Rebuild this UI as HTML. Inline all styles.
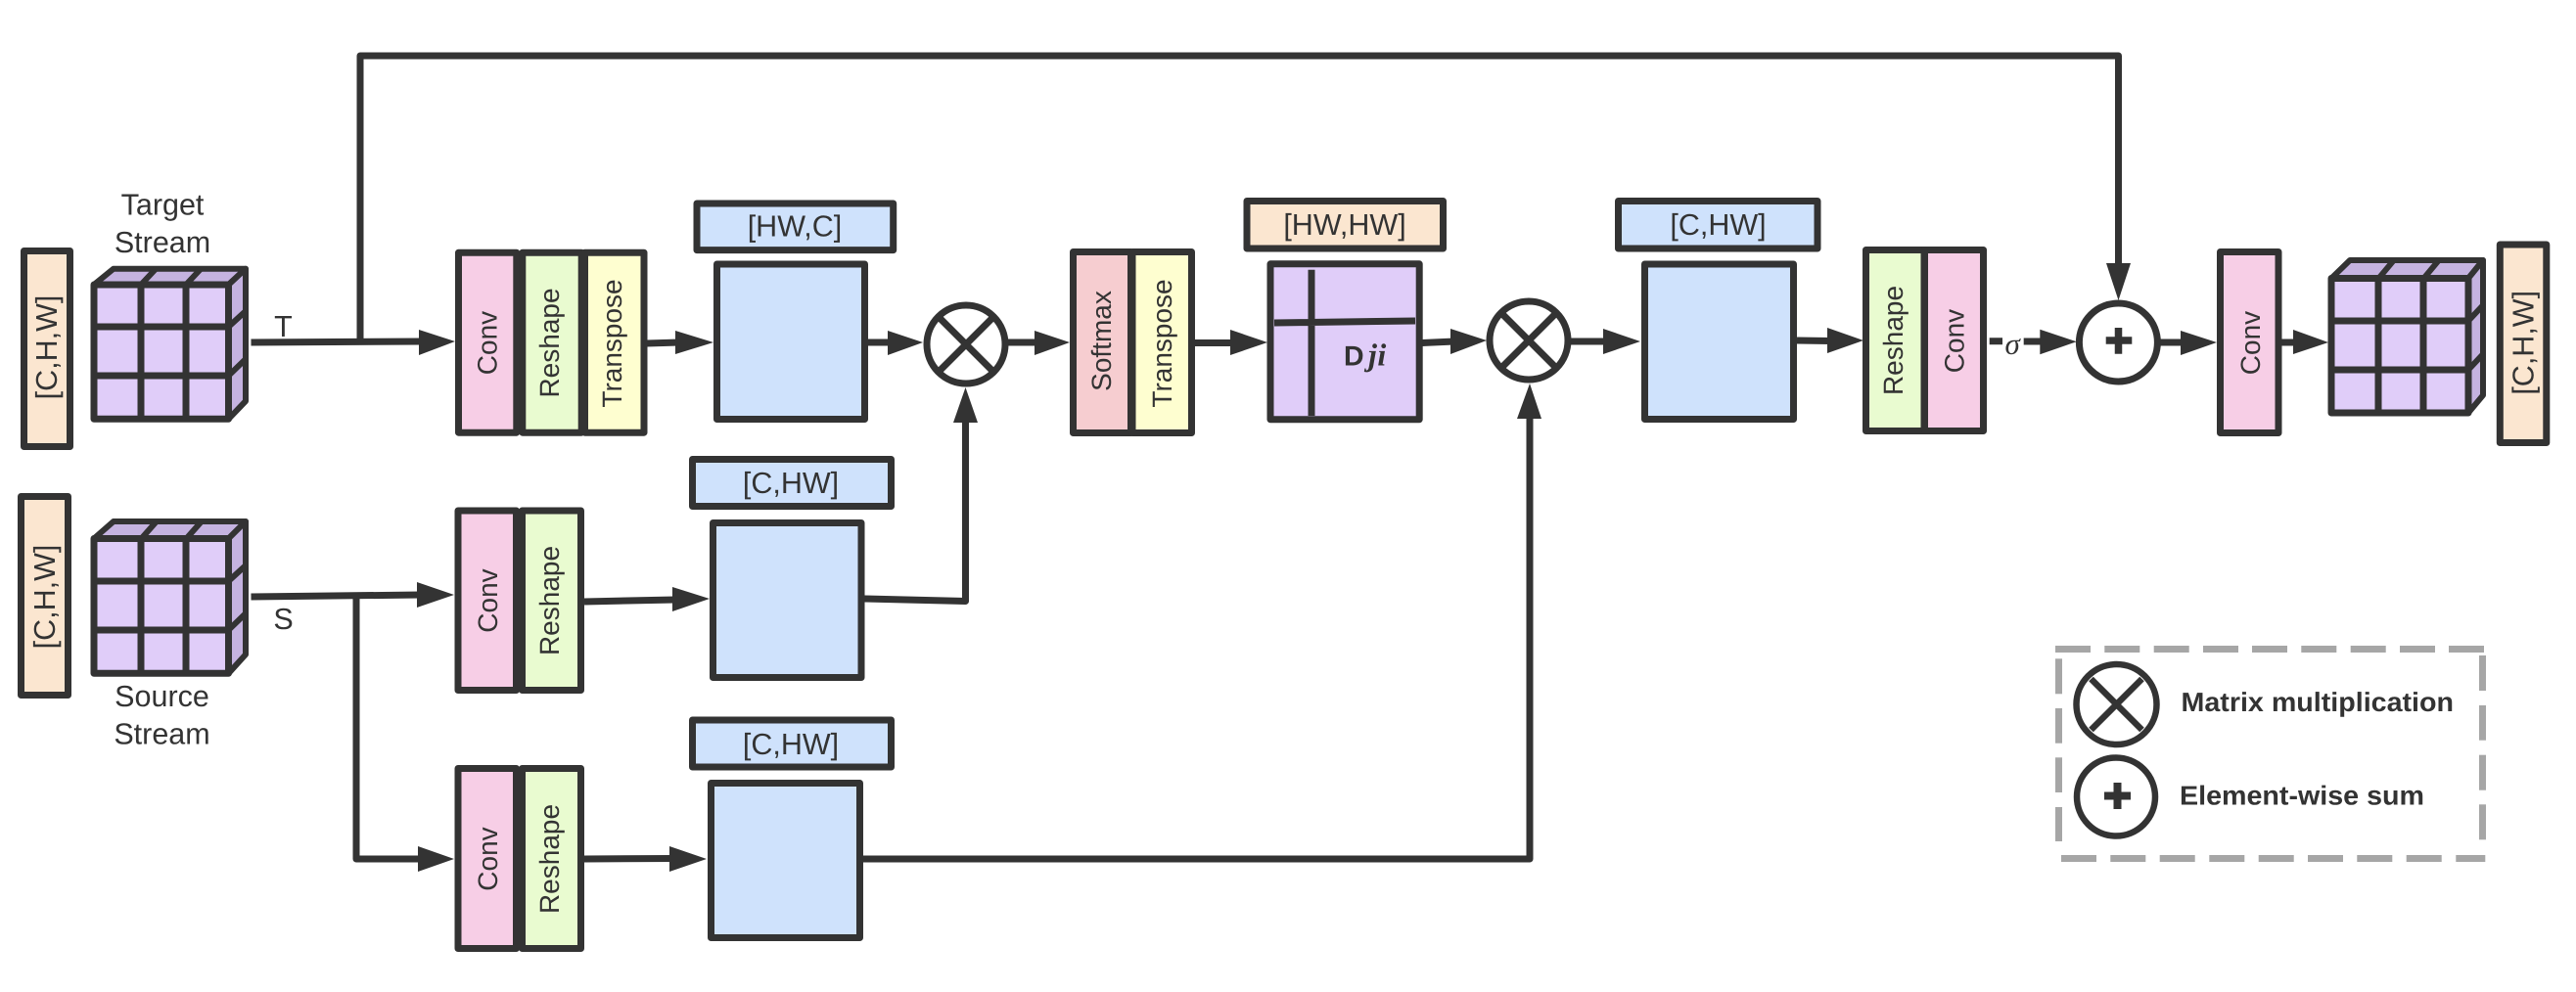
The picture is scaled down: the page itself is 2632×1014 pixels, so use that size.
<!DOCTYPE html>
<html><head><meta charset="utf-8"><style>
html,body{margin:0;padding:0;background:#fff}
svg{display:block}
text{font-family:"Liberation Sans",sans-serif;fill:#333;font-size:28px;text-rendering:geometricPrecision}
.l{font-size:30.500px;text-anchor:middle}
.r{text-anchor:middle}
.b{stroke:#333;stroke-width:7;stroke-linejoin:round}
.ln{stroke:#333;stroke-width:7;fill:none;stroke-linejoin:round}
.s{stroke:#333;stroke-width:6;fill:none}
.h{fill:#333}
.g{fill:#a6a6a6}
</style></head><body>
<svg width="2632" height="1014" viewBox="0 0 2632 1014" xmlns="http://www.w3.org/2000/svg">
<rect width="2632" height="1014" fill="#fff"/>

<!-- connectors -->
<path class="ln" d="M368 347V57H2164.500V272"/>
<path class="ln" d="M256.500 350L432 349"/><polygon class="h" points="428,337 465,349 428,363"/>
<path class="ln" d="M256.500 610L430 608"/><polygon class="h" points="426,595 464,608 426,621"/>
<path class="ln" d="M364 608V878H430"/><polygon class="h" points="427,865 464,878 427,891"/>
<path class="ln" d="M661 351L694 350"/><polygon class="h" points="690,338 729,350 690,362"/>
<path class="ln" d="M887 350H910"/><polygon class="h" points="907,338 943,350 907,363"/>
<path class="ln" d="M1030 350H1060"/><polygon class="h" points="1057,338 1093,350 1057,363"/>
<path class="ln" d="M1221 350.500H1260"/><polygon class="h" points="1257,337 1295,350 1257,363"/>
<path class="ln" d="M1453 350.500L1486 349"/><polygon class="h" points="1482,336 1519,348 1482,362"/>
<path class="ln" d="M1605 349H1642"/><polygon class="h" points="1638,336 1676,349 1638,362"/>
<path class="ln" d="M1836 348L1870 348.500"/><polygon class="h" points="1867,335 1904,348 1867,361"/>
<path class="ln" d="M2032.700 348.700H2046M2067.700 349H2090"/><polygon class="h" points="2084.300,336.700 2121.700,349.300 2084.300,362.300"/>
<path class="ln" d="M2207 350H2232"/><polygon class="h" points="2228,338 2265,350 2228,363"/>
<path class="ln" d="M2331 350H2346"/><polygon class="h" points="2343,337 2379,350 2343,362"/>
<polygon class="h" points="2152,269 2164.500,307 2177,269"/>
<path class="ln" d="M597 615L690 613"/><polygon class="h" points="687,600 725,612 687,625"/>
<path class="ln" d="M597 878L688 877.500"/><polygon class="h" points="684,865 722,878 684,891"/>
<path class="ln" d="M883 612L986.500 614.500V430"/><polygon class="h" points="974,432 986.500,396 999,432"/>
<path class="ln" d="M882 878H1563V426"/><polygon class="h" points="1550,428 1563,392 1575,428"/>

<!-- left labels -->
<rect class="b" x="24.500" y="256.500" width="47" height="200" fill="#fbe6d0"/>
<text class="l" transform="translate(58 355) rotate(-90)">[C,H,W]</text>
<rect class="b" x="21.500" y="507.500" width="48" height="203" fill="#fbe6d0"/>
<text class="l" transform="translate(56 610) rotate(-90)">[C,H,W]</text>

<!-- target cube -->
<g class="b" fill="#e0cdf9">
<polygon points="96,291 116,274.700 251,274.700 233.500,291" fill="#c5b3e0" stroke-width="6"/>
<polygon points="233.500,291 251,274.700 251,410 233.500,428.300" fill="#c5b3e0" stroke-width="6"/>
<rect x="96" y="291" width="137.500" height="137.300"/>
</g>
<path class="ln" d="M144 291V428M190 291V428M96 334H233M96 384H233"/>
<path class="s" d="M144 291L159 275M190 291L205 275M233.500 334L251 318M233.500 384L251 367"/>
<!-- source cube -->
<g class="b" fill="#e0cdf9">
<polygon points="96,550.500 116,533 251,533 233.500,550.500" fill="#c5b3e0" stroke-width="6"/>
<polygon points="233.500,550.500 251,533 251,669 233.500,688.300" fill="#c5b3e0" stroke-width="6"/>
<rect x="96" y="550.500" width="137.500" height="137.800"/>
</g>
<path class="ln" d="M144 551V688M190 551V688M96 594H233M96 644H233"/>
<path class="s" d="M144 551L159 534M190 551L205 534M233.500 594L251 578M233.500 644L251 627"/>

<text class="l" x="166" y="219.500">Target</text>
<text class="l" x="166" y="258">Stream</text>
<text class="l" x="165.500" y="722">Source</text>
<text class="l" x="165.500" y="760.500">Stream</text>
<text class="l" x="289.500" y="344">T</text>
<text class="l" x="289.500" y="643">S</text>

<!-- stack 1 -->
<rect class="b" x="468.500" y="258.200" width="59.300" height="184" fill="#f7cee6"/>
<rect class="b" x="533.800" y="258.200" width="60.400" height="184" fill="#e9fbd0"/>
<rect class="b" x="597.500" y="258.200" width="60.500" height="184" fill="#fefed0"/>
<text class="r" transform="translate(507.500 350.500) rotate(-90)">Conv</text>
<text class="r" transform="translate(571 350.500) rotate(-90)">Reshape</text>
<text class="r" transform="translate(635 351) rotate(-90)">Transpose</text>
<!-- stack 2 -->
<rect class="b" x="468" y="522" width="59.500" height="183.500" fill="#f7cee6"/>
<rect class="b" x="533.500" y="522" width="60" height="183.500" fill="#e9fbd0"/>
<text class="r" transform="translate(508 614) rotate(-90)">Conv</text>
<text class="r" transform="translate(571 614) rotate(-90)">Reshape</text>
<!-- stack 3 -->
<rect class="b" x="468" y="785.500" width="59.500" height="184" fill="#f7cee6"/>
<rect class="b" x="533.500" y="785.500" width="60" height="184" fill="#e9fbd0"/>
<text class="r" transform="translate(508 878) rotate(-90)">Conv</text>
<text class="r" transform="translate(571 878) rotate(-90)">Reshape</text>

<!-- boxes column 1 -->
<rect class="b" x="712" y="208" width="200.700" height="47.600" fill="#cfe2fc"/>
<text class="l" x="812" y="241.500">[HW,C]</text>
<rect class="b" x="732.500" y="270" width="151" height="158.500" fill="#cfe2fc"/>
<rect class="b" x="707.500" y="469.500" width="203" height="48" fill="#cfe2fc"/>
<text class="l" x="808" y="504">[C,HW]</text>
<rect class="b" x="728.500" y="534.500" width="151.500" height="158" fill="#cfe2fc"/>
<rect class="b" x="707.500" y="736" width="203" height="48" fill="#cfe2fc"/>
<text class="l" x="808" y="771">[C,HW]</text>
<rect class="b" x="726.500" y="800.500" width="152" height="158" fill="#cfe2fc"/>

<!-- circle 1 -->
<circle class="b" cx="987" cy="352" r="40" fill="#fff"/>
<path class="ln" d="M960.500 325.500L1013.500 378.500M1013.500 325.500L960.500 378.500"/>

<!-- softmax/transpose -->
<rect class="b" x="1096.500" y="257.500" width="59" height="185" fill="#f6cdd0"/>
<rect class="b" x="1157" y="257.500" width="60.500" height="185" fill="#fefed0"/>
<text class="r" transform="translate(1135 348.500) rotate(-90)">Softmax</text>
<text class="r" transform="translate(1197 351) rotate(-90)">Transpose</text>

<!-- Dji -->
<rect class="b" x="1274" y="205.500" width="200.500" height="48.500" fill="#fbe6d0"/>
<text class="l" x="1374" y="240">[HW,HW]</text>
<rect class="b" x="1298" y="269.800" width="152.200" height="159" fill="#e0cdf9"/>
<path class="ln" d="M1340 275.700V425M1302 330L1446 328"/>
<text x="1373" y="373.300" style="font-size:28.500px;font-weight:bold">D</text>
<text x="1398" y="373.300" style="font-size:32px;font-weight:bold;font-style:italic;font-family:'Liberation Serif',serif;letter-spacing:0.500px">ji</text>

<!-- circle 2 -->
<circle class="b" cx="1562" cy="348" r="40" fill="#fff"/>
<path class="ln" d="M1535.500 321.500L1588.500 374.500M1588.500 321.500L1535.500 374.500"/>

<!-- right column -->
<rect class="b" x="1653.500" y="205.500" width="203.500" height="48.500" fill="#cfe2fc"/>
<text class="l" x="1755.500" y="240">[C,HW]</text>
<rect class="b" x="1680.500" y="270" width="152" height="158.500" fill="#cfe2fc"/>
<rect class="b" x="1906.500" y="255.500" width="59.500" height="185" fill="#e9fbd0"/>
<rect class="b" x="1966.500" y="255.500" width="60" height="185" fill="#f7cee6"/>
<text class="r" transform="translate(1944 348) rotate(-90)">Reshape</text>
<text class="r" transform="translate(2006.500 348.500) rotate(-90)">Conv</text>
<text x="2048.500" y="362" style="font-size:31px;font-style:italic;font-family:'Liberation Serif',serif">σ</text>

<circle class="b" cx="2164.400" cy="350" r="40" fill="#fff"/>
<path d="M2151.700 348H2178.300M2164.500 335V361.700" stroke="#333" stroke-width="7.500" fill="none"/>

<rect class="b" x="2268.500" y="257.500" width="59.500" height="185" fill="#f7cee6"/>
<text class="r" transform="translate(2309 350.500) rotate(-90)">Conv</text>

<!-- right cube -->
<g class="b" fill="#e0cdf9">
<polygon points="2382,284.500 2401,266 2537,266 2522,284.500" fill="#c5b3e0" stroke-width="6"/>
<polygon points="2522,284.500 2537,266 2537,404 2522,422" fill="#c5b3e0" stroke-width="6"/>
<rect x="2382" y="284.500" width="140" height="137.500"/>
</g>
<path class="ln" d="M2430 285V422M2476 285V422M2382 328H2522M2382 378H2522"/>
<path class="s" d="M2430 285L2445 267M2476 285L2491 267M2522 328L2537 312M2522 378L2537 362"/>

<rect class="b" x="2554.300" y="250" width="47.500" height="202.500" fill="#fbe6d0"/>
<text class="l" transform="translate(2588.500 350.300) rotate(-90)">[C,H,W]</text>

<!-- legend -->
<g class="g">
<rect x="2100" y="660" width="36" height="7"/><rect x="2150.300" y="660" width="36" height="7"/><rect x="2200.700" y="660" width="36" height="7"/><rect x="2251" y="660" width="36" height="7"/><rect x="2301" y="660" width="36" height="7"/><rect x="2351.300" y="660" width="36" height="7"/><rect x="2401.700" y="660" width="36" height="7"/><rect x="2452" y="660" width="36" height="7"/><rect x="2502" y="660" width="36" height="7"/>
<rect x="2100" y="673.300" width="7" height="36"/><rect x="2100" y="724" width="7" height="35.700"/><rect x="2100" y="774.300" width="7" height="35.700"/><rect x="2100" y="825" width="7" height="35"/>
<rect x="2533" y="670" width="7" height="36"/><rect x="2533" y="721" width="7" height="35.700"/><rect x="2533" y="771.700" width="7" height="36"/><rect x="2533" y="822.300" width="7" height="36"/>
<rect x="2106" y="874" width="36" height="7"/><rect x="2156.300" y="874" width="36" height="7"/><rect x="2206.700" y="874" width="36" height="7"/><rect x="2257.300" y="874" width="36" height="7"/><rect x="2307.700" y="874" width="36" height="7"/><rect x="2358" y="874" width="36" height="7"/><rect x="2408.300" y="874" width="36" height="7"/><rect x="2458.700" y="874" width="36" height="7"/><rect x="2509.300" y="874" width="30" height="7"/>
</g>
<circle cx="2162.500" cy="720" r="41" fill="#fff" stroke="#333" stroke-width="6.500"/>
<path d="M2136.500 694L2188.500 746M2188.500 694L2136.500 746" stroke="#333" stroke-width="6.500" fill="none"/>
<circle cx="2162" cy="814.500" r="40" fill="#fff" stroke="#333" stroke-width="6.500"/>
<path d="M2150 813.500H2177M2163.500 800V827" stroke="#333" stroke-width="8" fill="none"/>
<text x="2228.500" y="727" textLength="278.500" lengthAdjust="spacingAndGlyphs" style="font-size:27.500px;font-weight:bold">Matrix multiplication</text>
<text x="2227" y="822.500" textLength="250" lengthAdjust="spacingAndGlyphs" style="font-size:27.500px;font-weight:bold">Element-wise sum</text>
</svg>
</body></html>
